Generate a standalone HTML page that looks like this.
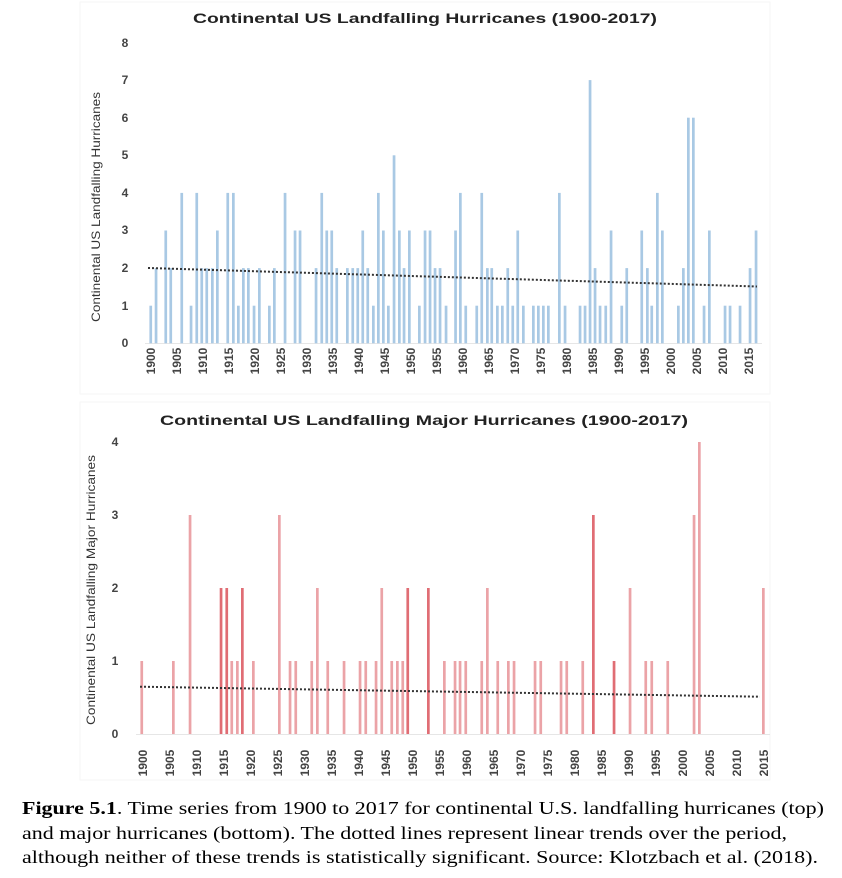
<!DOCTYPE html>
<html><head><meta charset="utf-8"><style>
html,body{margin:0;padding:0;background:#fff;width:842px;height:878px;overflow:hidden}
svg{display:block}
.t{font-family:"Liberation Sans",sans-serif;font-weight:bold;fill:#222}
.tk{font-family:"Liberation Sans",sans-serif;font-weight:bold;font-size:12px;fill:#444}
.yl{font-family:"Liberation Sans",sans-serif;font-size:12px;fill:#333}
.cap{font-family:"Liberation Serif",serif;font-size:17.5px;fill:#000}
</style></head><body>
<svg width="842" height="878" viewBox="0 0 842 878" xmlns="http://www.w3.org/2000/svg">
<rect x="80" y="2" width="690" height="392" fill="none" stroke="#f6f6f6"/>
<rect x="80" y="402" width="690" height="378" fill="none" stroke="#f6f6f6"/>
<text class="t" x="425" y="23" font-size="14" text-anchor="middle" textLength="464" lengthAdjust="spacingAndGlyphs">Continental US Landfalling Hurricanes (1900-2017)</text>
<text class="yl" transform="translate(100,207) rotate(-90)" text-anchor="middle" textLength="230" lengthAdjust="spacingAndGlyphs">Continental US Landfalling Hurricanes</text>
<g class="tk" text-anchor="middle">
<text x="125" y="347">0</text><text x="125" y="310">1</text><text x="125" y="272">2</text><text x="125" y="234">3</text><text x="125" y="197">4</text><text x="125" y="159">5</text><text x="125" y="122">6</text><text x="125" y="84">7</text><text x="125" y="47">8</text>
</g>
<line x1="145" y1="343.5" x2="762" y2="343.5" stroke="#e6e6e6"/>
<g transform="translate(-1.3,343.3) scale(1,-37.6)" fill="#a9c9e4">
<rect x="150.7" y="0" width="2.7" height="1"/><rect x="156" y="0" width="2.7" height="2"/><rect x="165.7" y="0" width="2.7" height="3"/><rect x="170.7" y="0" width="2.7" height="2"/><rect x="181.7" y="0" width="2.7" height="4"/><rect x="191" y="0" width="2.7" height="1"/><rect x="196.7" y="0" width="2.7" height="4"/><rect x="201.7" y="0" width="2.7" height="2"/><rect x="206.7" y="0" width="2.7" height="2"/><rect x="212.3" y="0" width="2.7" height="2"/><rect x="217.3" y="0" width="2.7" height="3"/><rect x="227.7" y="0" width="2.7" height="4"/><rect x="233.3" y="0" width="2.7" height="4"/><rect x="238.3" y="0" width="2.7" height="1"/><rect x="243.3" y="0" width="2.7" height="2"/><rect x="248.3" y="0" width="2.7" height="2"/><rect x="254" y="0" width="2.7" height="1"/><rect x="259.3" y="0" width="2.7" height="2"/><rect x="269.3" y="0" width="2.7" height="1"/><rect x="274.3" y="0" width="2.7" height="2"/><rect x="285" y="0" width="2.7" height="4"/><rect x="295" y="0" width="2.7" height="3"/><rect x="300" y="0" width="2.7" height="3"/><rect x="316" y="0" width="2.7" height="2"/><rect x="321.7" y="0" width="2.7" height="4"/><rect x="326.7" y="0" width="2.7" height="3"/><rect x="331.7" y="0" width="2.7" height="3"/><rect x="336.7" y="0" width="2.7" height="2"/><rect x="347.3" y="0" width="2.7" height="2"/><rect x="352.7" y="0" width="2.7" height="2"/><rect x="357.7" y="0" width="2.7" height="2"/><rect x="362.7" y="0" width="2.7" height="3"/><rect x="367.7" y="0" width="2.7" height="2"/><rect x="373.3" y="0" width="2.7" height="1"/><rect x="378.3" y="0" width="2.7" height="4"/><rect x="383.3" y="0" width="2.7" height="3"/><rect x="388.3" y="0" width="2.7" height="1"/><rect x="394" y="0" width="2.7" height="5"/><rect x="399.3" y="0" width="2.7" height="3"/><rect x="404" y="0" width="2.7" height="2"/><rect x="409.3" y="0" width="2.7" height="3"/><rect x="419.3" y="0" width="2.7" height="1"/><rect x="425" y="0" width="2.7" height="3"/><rect x="430" y="0" width="2.7" height="3"/><rect x="435" y="0" width="2.7" height="2"/><rect x="440" y="0" width="2.7" height="2"/><rect x="446" y="0" width="2.7" height="1"/><rect x="455.5" y="0" width="2.7" height="3"/><rect x="460.3" y="0" width="2.7" height="4"/>
<rect x="465.7" y="0" width="2.7" height="1"/><rect x="476.7" y="0" width="2.7" height="1"/><rect x="481.7" y="0" width="2.7" height="4"/><rect x="487.3" y="0" width="2.7" height="2"/><rect x="491.7" y="0" width="2.7" height="2"/><rect x="497.3" y="0" width="2.7" height="1"/><rect x="502.3" y="0" width="2.7" height="1"/><rect x="507.7" y="0" width="2.7" height="2"/><rect x="512.7" y="0" width="2.7" height="1"/><rect x="517.7" y="0" width="2.7" height="3"/><rect x="523.3" y="0" width="2.7" height="1"/><rect x="533.3" y="0" width="2.7" height="1"/><rect x="538.3" y="0" width="2.7" height="1"/><rect x="543.3" y="0" width="2.7" height="1"/><rect x="548.3" y="0" width="2.7" height="1"/><rect x="559.3" y="0" width="2.7" height="4"/><rect x="565" y="0" width="2.7" height="1"/><rect x="580" y="0" width="2.7" height="1"/><rect x="585" y="0" width="2.7" height="1"/><rect x="590" y="0" width="2.7" height="7"/><rect x="595" y="0" width="2.7" height="2"/><rect x="600" y="0" width="2.7" height="1"/><rect x="605.7" y="0" width="2.7" height="1"/><rect x="611" y="0" width="2.7" height="3"/><rect x="621.7" y="0" width="2.7" height="1"/><rect x="626.7" y="0" width="2.7" height="2"/><rect x="641.7" y="0" width="2.7" height="3"/><rect x="647.3" y="0" width="2.7" height="2"/><rect x="651.7" y="0" width="2.7" height="1"/><rect x="657.3" y="0" width="2.7" height="4"/><rect x="662.3" y="0" width="2.7" height="3"/><rect x="678.3" y="0" width="2.7" height="1"/><rect x="683.3" y="0" width="2.7" height="2"/><rect x="688.3" y="0" width="2.7" height="6"/><rect x="693.3" y="0" width="2.7" height="6"/><rect x="704" y="0" width="2.7" height="1"/><rect x="709.3" y="0" width="2.7" height="3"/><rect x="725" y="0" width="2.7" height="1"/><rect x="730" y="0" width="2.7" height="1"/><rect x="740" y="0" width="2.7" height="1"/><rect x="750" y="0" width="2.7" height="2"/><rect x="756" y="0" width="2.7" height="3"/>
</g>
<line x1="148" y1="268" x2="757" y2="286.5" stroke="#333" stroke-width="2" stroke-dasharray="2,2"/>
<g class="tk" text-anchor="middle">
<text transform="translate(155,361) rotate(-90)">1900</text><text transform="translate(181,361) rotate(-90)">1905</text><text transform="translate(207,361) rotate(-90)">1910</text><text transform="translate(233,361) rotate(-90)">1915</text><text transform="translate(259,361) rotate(-90)">1920</text><text transform="translate(285,361) rotate(-90)">1925</text><text transform="translate(311,361) rotate(-90)">1930</text><text transform="translate(337,361) rotate(-90)">1935</text><text transform="translate(363,361) rotate(-90)">1940</text><text transform="translate(389,361) rotate(-90)">1945</text><text transform="translate(415,361) rotate(-90)">1950</text><text transform="translate(441,361) rotate(-90)">1955</text><text transform="translate(467,361) rotate(-90)">1960</text><text transform="translate(493,361) rotate(-90)">1965</text><text transform="translate(519,361) rotate(-90)">1970</text><text transform="translate(545,361) rotate(-90)">1975</text><text transform="translate(571,361) rotate(-90)">1980</text><text transform="translate(597,361) rotate(-90)">1985</text><text transform="translate(623,361) rotate(-90)">1990</text><text transform="translate(649,361) rotate(-90)">1995</text><text transform="translate(675,361) rotate(-90)">2000</text><text transform="translate(701,361) rotate(-90)">2005</text><text transform="translate(727,361) rotate(-90)">2010</text><text transform="translate(753,361) rotate(-90)">2015</text>
</g>

<text class="t" x="424" y="425" font-size="14" text-anchor="middle" textLength="528" lengthAdjust="spacingAndGlyphs">Continental US Landfalling Major Hurricanes (1900-2017)</text>
<text class="yl" transform="translate(95,590) rotate(-90)" text-anchor="middle" textLength="270" lengthAdjust="spacingAndGlyphs">Continental US Landfalling Major Hurricanes</text>
<g class="tk" text-anchor="middle">
<text x="115" y="738">0</text><text x="115" y="665">1</text><text x="115" y="592">2</text><text x="115" y="519">3</text><text x="115" y="446">4</text>
</g>
<line x1="136" y1="734.5" x2="770" y2="734.5" stroke="#e6e6e6"/>
<g transform="translate(-1.3,734) scale(1,-73)" fill="#eba3a7">
<rect x="141.7" y="0" width="2.7" height="1"/><rect x="173.3" y="0" width="2.7" height="1"/><rect x="190" y="0" width="2.7" height="3"/><rect x="221" y="0" width="2.7" height="2" fill="#e06d74"/><rect x="226.7" y="0" width="2.7" height="2" fill="#e06d74"/><rect x="231.7" y="0" width="2.7" height="1"/><rect x="237.3" y="0" width="2.7" height="1"/><rect x="242.3" y="0" width="2.7" height="2" fill="#e06d74"/><rect x="253.3" y="0" width="2.7" height="1"/><rect x="279.3" y="0" width="2.7" height="3"/><rect x="290" y="0" width="2.7" height="1"/><rect x="295.7" y="0" width="2.7" height="1"/><rect x="311.7" y="0" width="2.7" height="1"/><rect x="317.3" y="0" width="2.7" height="2"/><rect x="327.7" y="0" width="2.7" height="1"/><rect x="344" y="0" width="2.7" height="1"/><rect x="360" y="0" width="2.7" height="1"/><rect x="365.7" y="0" width="2.7" height="1"/><rect x="376" y="0" width="2.7" height="1"/><rect x="381.7" y="0" width="2.7" height="2"/><rect x="391.7" y="0" width="2.7" height="1"/><rect x="397.3" y="0" width="2.7" height="1"/><rect x="402.7" y="0" width="2.7" height="1"/><rect x="407.7" y="0" width="2.7" height="2" fill="#e06d74"/><rect x="428.3" y="0" width="2.7" height="2" fill="#e06d74"/><rect x="444.3" y="0" width="2.7" height="1"/><rect x="455" y="0" width="2.7" height="1"/><rect x="460" y="0" width="2.7" height="1"/><rect x="465.7" y="0" width="2.7" height="1"/><rect x="481.7" y="0" width="2.7" height="1"/><rect x="487.3" y="0" width="2.7" height="2"/><rect x="497.7" y="0" width="2.7" height="1"/><rect x="508.3" y="0" width="2.7" height="1"/><rect x="514" y="0" width="2.7" height="1"/><rect x="535" y="0" width="2.7" height="1"/><rect x="540.7" y="0" width="2.7" height="1"/><rect x="561" y="0" width="2.7" height="1"/><rect x="566.7" y="0" width="2.7" height="1"/><rect x="582.7" y="0" width="2.7" height="1"/><rect x="593.3" y="0" width="2.7" height="3" fill="#e06d74"/><rect x="614" y="0" width="2.7" height="1" fill="#e06d74"/><rect x="630" y="0" width="2.7" height="2"/><rect x="645.7" y="0" width="2.7" height="1"/><rect x="651.7" y="0" width="2.7" height="1"/><rect x="667.7" y="0" width="2.7" height="1"/><rect x="694" y="0" width="2.7" height="3"/><rect x="699.3" y="0" width="2.7" height="4"/><rect x="763.3" y="0" width="2.7" height="2"/>
</g>
<line x1="140" y1="686.7" x2="760" y2="696.7" stroke="#333" stroke-width="2" stroke-dasharray="2,2"/>
<g class="tk" text-anchor="middle">
<text transform="translate(147,763) rotate(-90)">1900</text><text transform="translate(174,763) rotate(-90)">1905</text><text transform="translate(201,763) rotate(-90)">1910</text><text transform="translate(228,763) rotate(-90)">1915</text><text transform="translate(255,763) rotate(-90)">1920</text><text transform="translate(282,763) rotate(-90)">1925</text><text transform="translate(309,763) rotate(-90)">1930</text><text transform="translate(336,763) rotate(-90)">1935</text><text transform="translate(363,763) rotate(-90)">1940</text><text transform="translate(390,763) rotate(-90)">1945</text><text transform="translate(417,763) rotate(-90)">1950</text><text transform="translate(444,763) rotate(-90)">1955</text><text transform="translate(471,763) rotate(-90)">1960</text><text transform="translate(498,763) rotate(-90)">1965</text><text transform="translate(525,763) rotate(-90)">1970</text><text transform="translate(552,763) rotate(-90)">1975</text><text transform="translate(579,763) rotate(-90)">1980</text><text transform="translate(606,763) rotate(-90)">1985</text><text transform="translate(633,763) rotate(-90)">1990</text><text transform="translate(660,763) rotate(-90)">1995</text><text transform="translate(687,763) rotate(-90)">2000</text><text transform="translate(714,763) rotate(-90)">2005</text><text transform="translate(741,763) rotate(-90)">2010</text><text transform="translate(768,763) rotate(-90)">2015</text>
</g>

<text class="cap" x="22" y="814" textLength="802" lengthAdjust="spacingAndGlyphs"><tspan font-weight="bold">Figure 5.1</tspan>. Time series from 1900 to 2017 for continental U.S. landfalling hurricanes (top)</text>
<text class="cap" x="22" y="839" textLength="765" lengthAdjust="spacingAndGlyphs">and major hurricanes (bottom). The dotted lines represent linear trends over the period,</text>
<text class="cap" x="22" y="863" textLength="796" lengthAdjust="spacingAndGlyphs">although neither of these trends is statistically significant. Source:  Klotzbach et al. (2018).</text>
</svg>
</body></html>
